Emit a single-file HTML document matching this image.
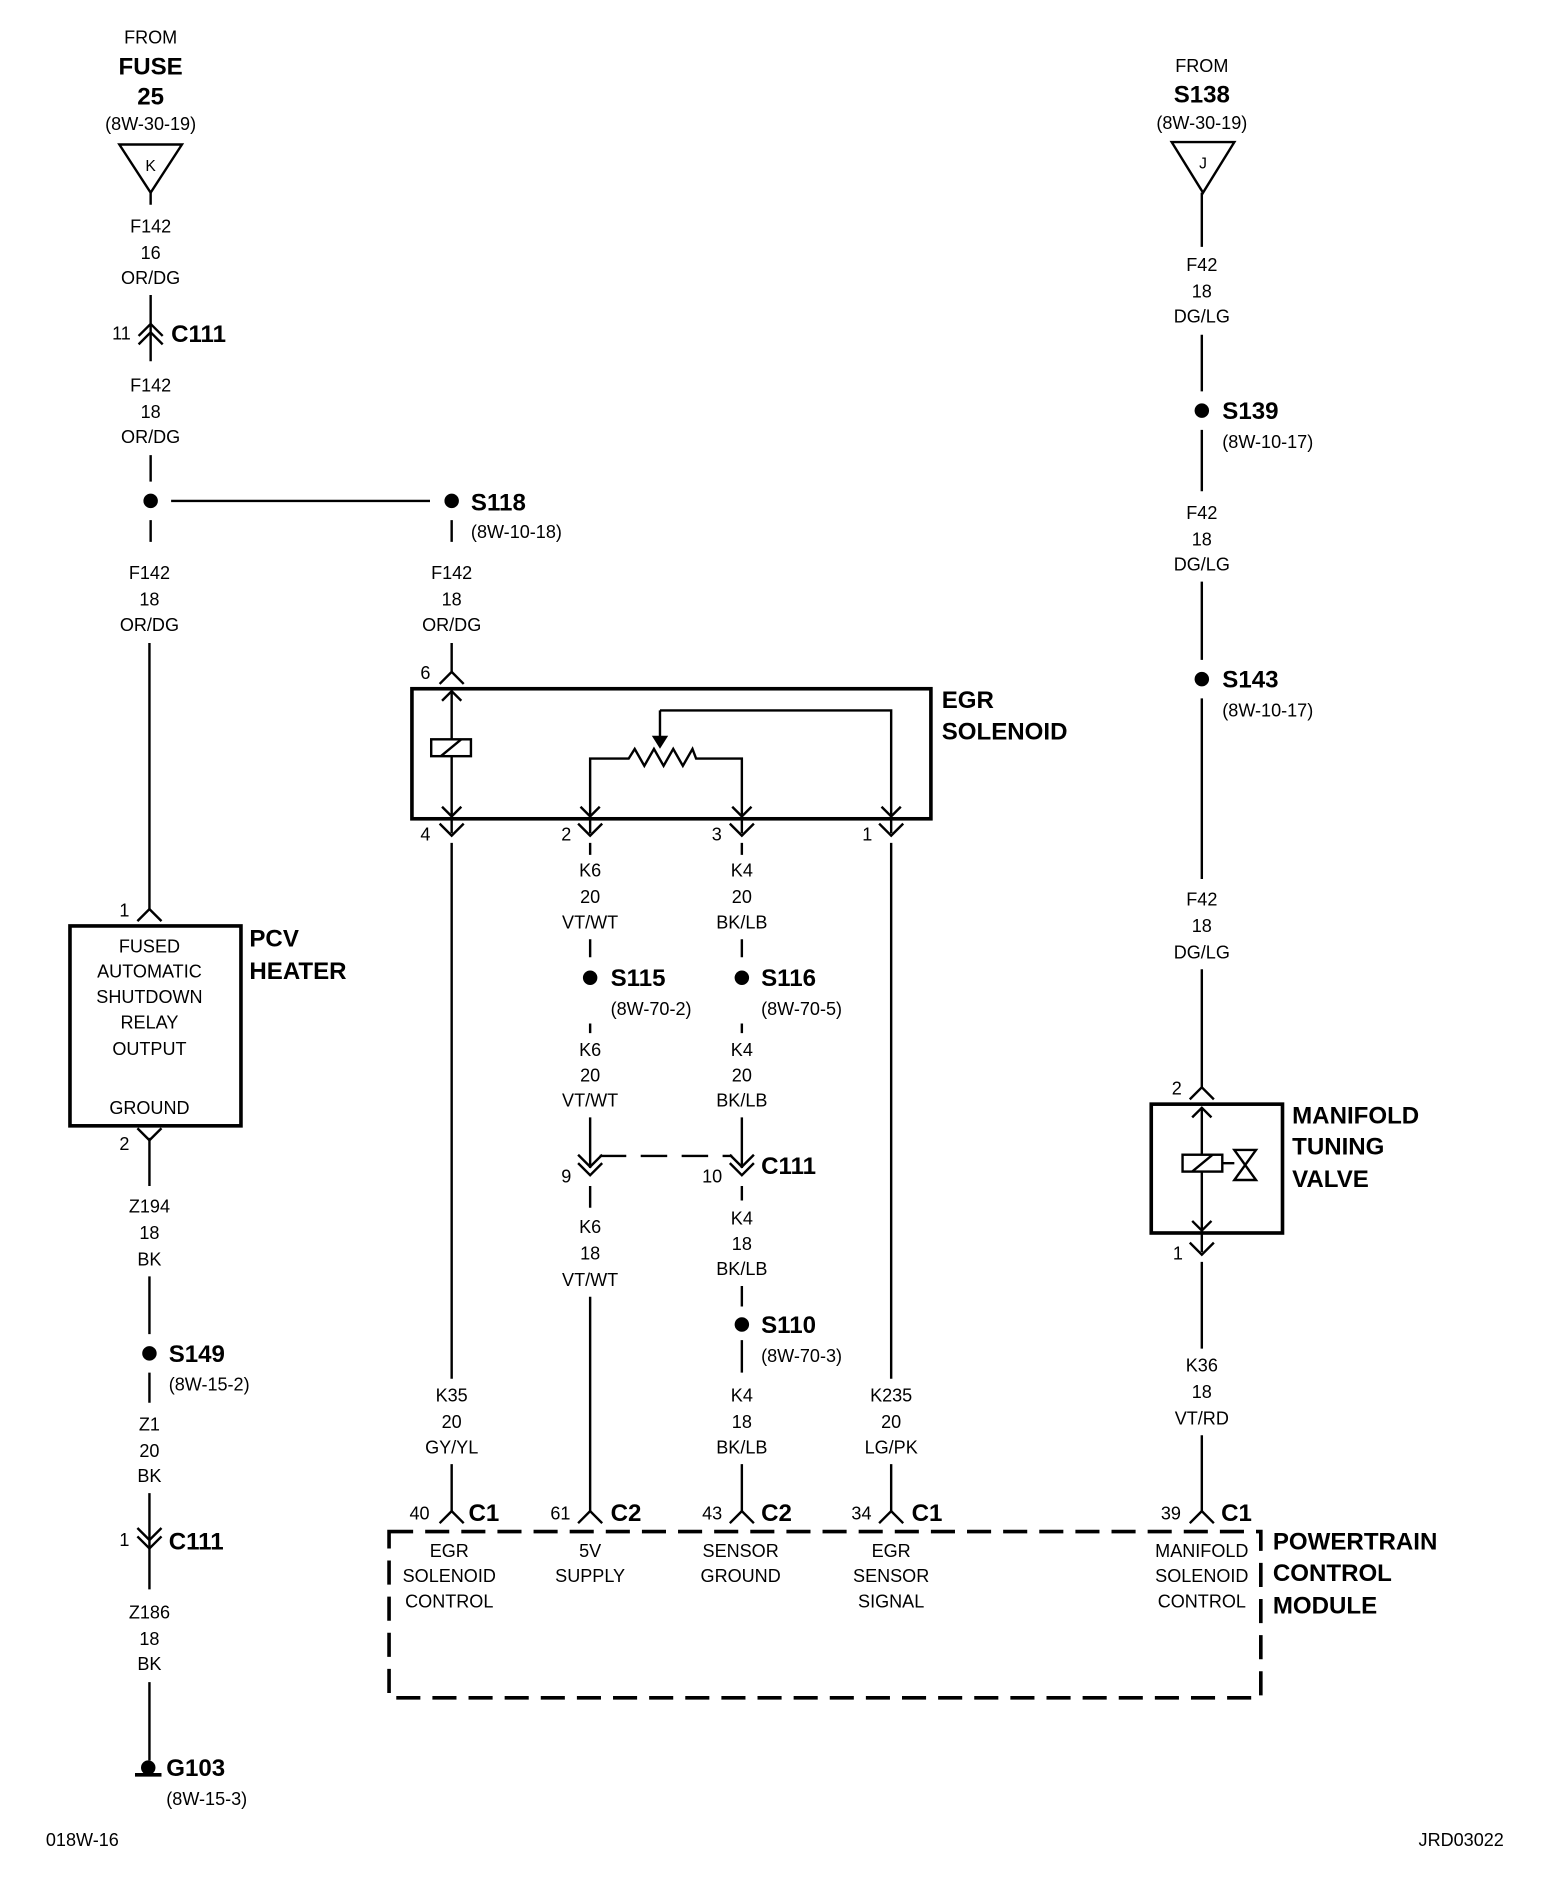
<!DOCTYPE html>
<html><head><meta charset="utf-8"><style>
html,body{margin:0;padding:0;background:#fff}
svg{display:block}
text{font-family:"Liberation Sans",Arial,sans-serif;font-size:15px;fill:#000}
.c{text-anchor:middle}
.b{font-weight:bold;font-size:20px}
</style></head><body>
<svg width="1568" height="1882" viewBox="0 0 1302 1563" xmlns="http://www.w3.org/2000/svg">
<defs>
<path id="up" d="M-10,8 L0,-2 L10,8" fill="none" stroke="#000" stroke-width="2"/>
<path id="dn" d="M-10,-8 L0,2 L10,-8" fill="none" stroke="#000" stroke-width="2"/>
<path id="uu" d="M-10,2 L0,-8 L10,2 M-10,9 L0,-1 L10,9" fill="none" stroke="#000" stroke-width="2"/>
<path id="dd" d="M-10,-9 L0,1 L10,-9 M-10,-2 L0,8 L10,-2" fill="none" stroke="#000" stroke-width="2"/>
<circle id="dot" r="6" fill="#000"/>
</defs>
<g stroke="#000" stroke-width="2" fill="none">
<!-- left column -->
<path d="M99,120 L151,120 L125,160 Z"/>
<path d="M125,160 V170 M125,245 V283 M125,300 V300 M125,270 V300 M125,378 V400 M142,416 H357 M125,432 V450 M124,534 V755 M124,945 V985 M124,1060 V1108 M124,1140 V1165 M124,1240 V1290 M124,1320 V1290 M124,1397 V1462"/>
<path d="M375,432 V450 M375,534 V558"/>
<rect x="58" y="769" width="142" height="166" stroke-width="3"/>
<path d="M112,1474 H134" stroke-width="3"/>
<!-- EGR solenoid -->
<rect x="342" y="572" width="431" height="108" stroke-width="3"/>
<path d="M375,575 V692"/>
<path d="M367,582 L375,574 L383,582 M367,670 L375,678 L383,670"/>
<rect x="358" y="614" width="33" height="14" fill="#fff"/>
<path d="M366,628 L383,614"/>
<path d="M548,590 H740 V692 M548,590 V618"/>
<path d="M543,612 L548,620 L553,612 Z" fill="#000"/>
<path d="M490,692 V630 H522 L527,622 L535,636 L543,622 L551,636 L559,622 L567,636 L575,622 L578,630 H616 V692"/>
<path d="M482,670 L490,678 L498,670 M608,670 L616,678 L624,670 M732,670 L740,678 L748,670"/>
<path d="M375,700 V1145 M740,700 V1145"/>
<path d="M490,700 V710 M490,780 V795 M490,850 V858 M490,928 V970 M490,985 V1003 M490,1077 V1255"/>
<path d="M616,700 V710 M616,780 V795 M616,850 V858 M616,928 V970 M616,985 V997 M616,1068 V1085 M616,1113 V1140 M616,1216 V1255"/>
<path d="M498,960 H608" stroke-dasharray="22,12"/>
<path d="M375,1216 V1255 M740,1216 V1255"/>
<!-- right column -->
<path d="M973,118 L1025,118 L999,160 Z"/>
<path d="M998,160 V205 M998,278 V325 M998,357 V408 M998,483 V548 M998,580 V730 M998,805 V903"/>
<rect x="956" y="917" width="109" height="107" stroke-width="3"/>
<path d="M998,920 V1040"/>
<path d="M990,928 L998,920 L1006,928 M990,1014 L998,1022 L1006,1014"/>
<rect x="982" y="959" width="33" height="14" fill="#fff"/>
<path d="M990,973 L1007,959 M1015,966 H1025 M1025,955 H1043 L1025,980 H1043 Z"/>
<path d="M998,1048 V1120 M998,1192 V1255"/>
<rect x="323" y="1272" width="724" height="138" stroke-width="3" stroke-dasharray="20,10"/>
</g>
<use href="#dot" x="125" y="416"/><use href="#dot" x="375" y="416"/>
<use href="#dot" x="124" y="1124"/>
<use href="#dot" x="490" y="812"/><use href="#dot" x="616" y="812"/><use href="#dot" x="616" y="1100"/>
<use href="#dot" x="998" y="341"/><use href="#dot" x="998" y="564"/>
<circle cx="123" cy="1468" r="6"/>
<use href="#uu" x="125" y="277"/><use href="#dd" x="124" y="1278"/>
<use href="#up" x="124" y="757"/><use href="#dn" x="124" y="945"/>
<use href="#up" x="375" y="560"/>
<use href="#dn" x="375" y="692"/><use href="#dn" x="490" y="692"/><use href="#dn" x="616" y="692"/><use href="#dn" x="740" y="692"/>
<use href="#dd" x="490" y="968"/><use href="#dd" x="616" y="968"/>
<use href="#up" x="375" y="1257"/><use href="#up" x="490" y="1257"/><use href="#up" x="616" y="1257"/><use href="#up" x="740" y="1257"/><use href="#up" x="998" y="1257"/>
<use href="#up" x="998" y="905"/><use href="#dn" x="998" y="1040"/>

<g class="c">
<text x="125" y="36" class="c">FROM</text>
<text x="125" y="62" class="c b">FUSE</text>
<text x="125" y="87" class="c b">25</text>
<text x="125" y="108" class="c">(8W-30-19)</text>
<text x="125" y="142" class="c" style="font-size:13px">K</text>
<text x="125" y="193" class="c">F142</text><text x="125" y="215" class="c">16</text><text x="125" y="236" class="c">OR/DG</text>
<text x="125" y="325" class="c">F142</text><text x="125" y="347" class="c">18</text><text x="125" y="368" class="c">OR/DG</text>
<text x="124" y="481" class="c">F142</text><text x="124" y="503" class="c">18</text><text x="124" y="524" class="c">OR/DG</text>
<text x="375" y="481" class="c">F142</text><text x="375" y="503" class="c">18</text><text x="375" y="524" class="c">OR/DG</text>
<text x="124" y="791" class="c">FUSED</text><text x="124" y="812" class="c">AUTOMATIC</text><text x="124" y="833" class="c">SHUTDOWN</text><text x="124" y="854" class="c">RELAY</text><text x="124" y="876" class="c">OUTPUT</text><text x="124" y="925" class="c">GROUND</text>
<text x="124" y="1007" class="c">Z194</text><text x="124" y="1029" class="c">18</text><text x="124" y="1051" class="c">BK</text>
<text x="124" y="1188" class="c">Z1</text><text x="124" y="1210" class="c">20</text><text x="124" y="1231" class="c">BK</text>
<text x="124" y="1344" class="c">Z186</text><text x="124" y="1366" class="c">18</text><text x="124" y="1387" class="c">BK</text>
<text x="490" y="728" class="c">K6</text><text x="490" y="750" class="c">20</text><text x="490" y="771" class="c">VT/WT</text>
<text x="616" y="728" class="c">K4</text><text x="616" y="750" class="c">20</text><text x="616" y="771" class="c">BK/LB</text>
<text x="490" y="877" class="c">K6</text><text x="490" y="898" class="c">20</text><text x="490" y="919" class="c">VT/WT</text>
<text x="616" y="877" class="c">K4</text><text x="616" y="898" class="c">20</text><text x="616" y="919" class="c">BK/LB</text>
<text x="490" y="1024" class="c">K6</text><text x="490" y="1046" class="c">18</text><text x="490" y="1068" class="c">VT/WT</text>
<text x="616" y="1017" class="c">K4</text><text x="616" y="1038" class="c">18</text><text x="616" y="1059" class="c">BK/LB</text>
<text x="616" y="1164" class="c">K4</text><text x="616" y="1186" class="c">18</text><text x="616" y="1207" class="c">BK/LB</text>
<text x="375" y="1164" class="c">K35</text><text x="375" y="1186" class="c">20</text><text x="375" y="1207" class="c">GY/YL</text>
<text x="740" y="1164" class="c">K235</text><text x="740" y="1186" class="c">20</text><text x="740" y="1207" class="c">LG/PK</text>
<text x="998" y="1139" class="c">K36</text><text x="998" y="1161" class="c">18</text><text x="998" y="1183" class="c">VT/RD</text>
<text x="998" y="60" class="c">FROM</text>
<text x="998" y="85" class="c b">S138</text>
<text x="998" y="107" class="c">(8W-30-19)</text>
<text x="999" y="140" class="c" style="font-size:13px">J</text>
<text x="998" y="225" class="c">F42</text><text x="998" y="247" class="c">18</text><text x="998" y="268" class="c">DG/LG</text>
<text x="998" y="431" class="c">F42</text><text x="998" y="453" class="c">18</text><text x="998" y="474" class="c">DG/LG</text>
<text x="998" y="752" class="c">F42</text><text x="998" y="774" class="c">18</text><text x="998" y="796" class="c">DG/LG</text>
<text x="373" y="1293" class="c">EGR</text><text x="373" y="1314" class="c">SOLENOID</text><text x="373" y="1335" class="c">CONTROL</text>
<text x="490" y="1293" class="c">5V</text><text x="490" y="1314" class="c">SUPPLY</text>
<text x="615" y="1293" class="c">SENSOR</text><text x="615" y="1314" class="c">GROUND</text>
<text x="740" y="1293" class="c">EGR</text><text x="740" y="1314" class="c">SENSOR</text><text x="740" y="1335" class="c">SIGNAL</text>
<text x="998" y="1293" class="c">MANIFOLD</text><text x="998" y="1314" class="c">SOLENOID</text><text x="998" y="1335" class="c">CONTROL</text>
</g>
<text x="93" y="282">11</text>
<text x="142" y="284" class="b">C111</text>
<text x="391" y="424" class="b">S118</text><text x="391" y="447">(8W-10-18)</text>
<text x="99" y="761">1</text>
<text x="207" y="786" class="b">PCV</text><text x="207" y="813" class="b">HEATER</text>
<text x="99" y="955">2</text>
<text x="140" y="1131" class="b">S149</text><text x="140" y="1155">(8W-15-2)</text>
<text x="99" y="1284">1</text>
<text x="140" y="1287" class="b">C111</text>
<text x="138" y="1475" class="b">G103</text><text x="138" y="1499">(8W-15-3)</text>
<text x="38" y="1533">018W-16</text>
<text x="1178" y="1533">JRD03022</text>
<text x="349" y="564">6</text>
<text x="782" y="588" class="b">EGR</text><text x="782" y="614" class="b">SOLENOID</text>
<text x="349" y="698">4</text><text x="466" y="698">2</text><text x="591" y="698">3</text><text x="716" y="698">1</text>
<text x="507" y="819" class="b">S115</text><text x="507" y="843">(8W-70-2)</text>
<text x="632" y="819" class="b">S116</text><text x="632" y="843">(8W-70-5)</text>
<text x="466" y="982">9</text><text x="583" y="982">10</text>
<text x="632" y="975" class="b">C111</text>
<text x="632" y="1107" class="b">S110</text><text x="632" y="1131">(8W-70-3)</text>
<text x="340" y="1262">40</text><text x="389" y="1263" class="b">C1</text>
<text x="457" y="1262">61</text><text x="507" y="1263" class="b">C2</text>
<text x="583" y="1262">43</text><text x="632" y="1263" class="b">C2</text>
<text x="707" y="1262">34</text><text x="757" y="1263" class="b">C1</text>
<text x="964" y="1262">39</text><text x="1014" y="1263" class="b">C1</text>
<text x="1057" y="1287" class="b">POWERTRAIN</text><text x="1057" y="1313" class="b">CONTROL</text><text x="1057" y="1340" class="b">MODULE</text>
<text x="1015" y="348" class="b">S139</text><text x="1015" y="372">(8W-10-17)</text>
<text x="1015" y="571" class="b">S143</text><text x="1015" y="595">(8W-10-17)</text>
<text x="973" y="909">2</text><text x="974" y="1046">1</text>
<text x="1073" y="933" class="b">MANIFOLD</text><text x="1073" y="959" class="b">TUNING</text><text x="1073" y="986" class="b">VALVE</text>
</svg>
</body></html>
